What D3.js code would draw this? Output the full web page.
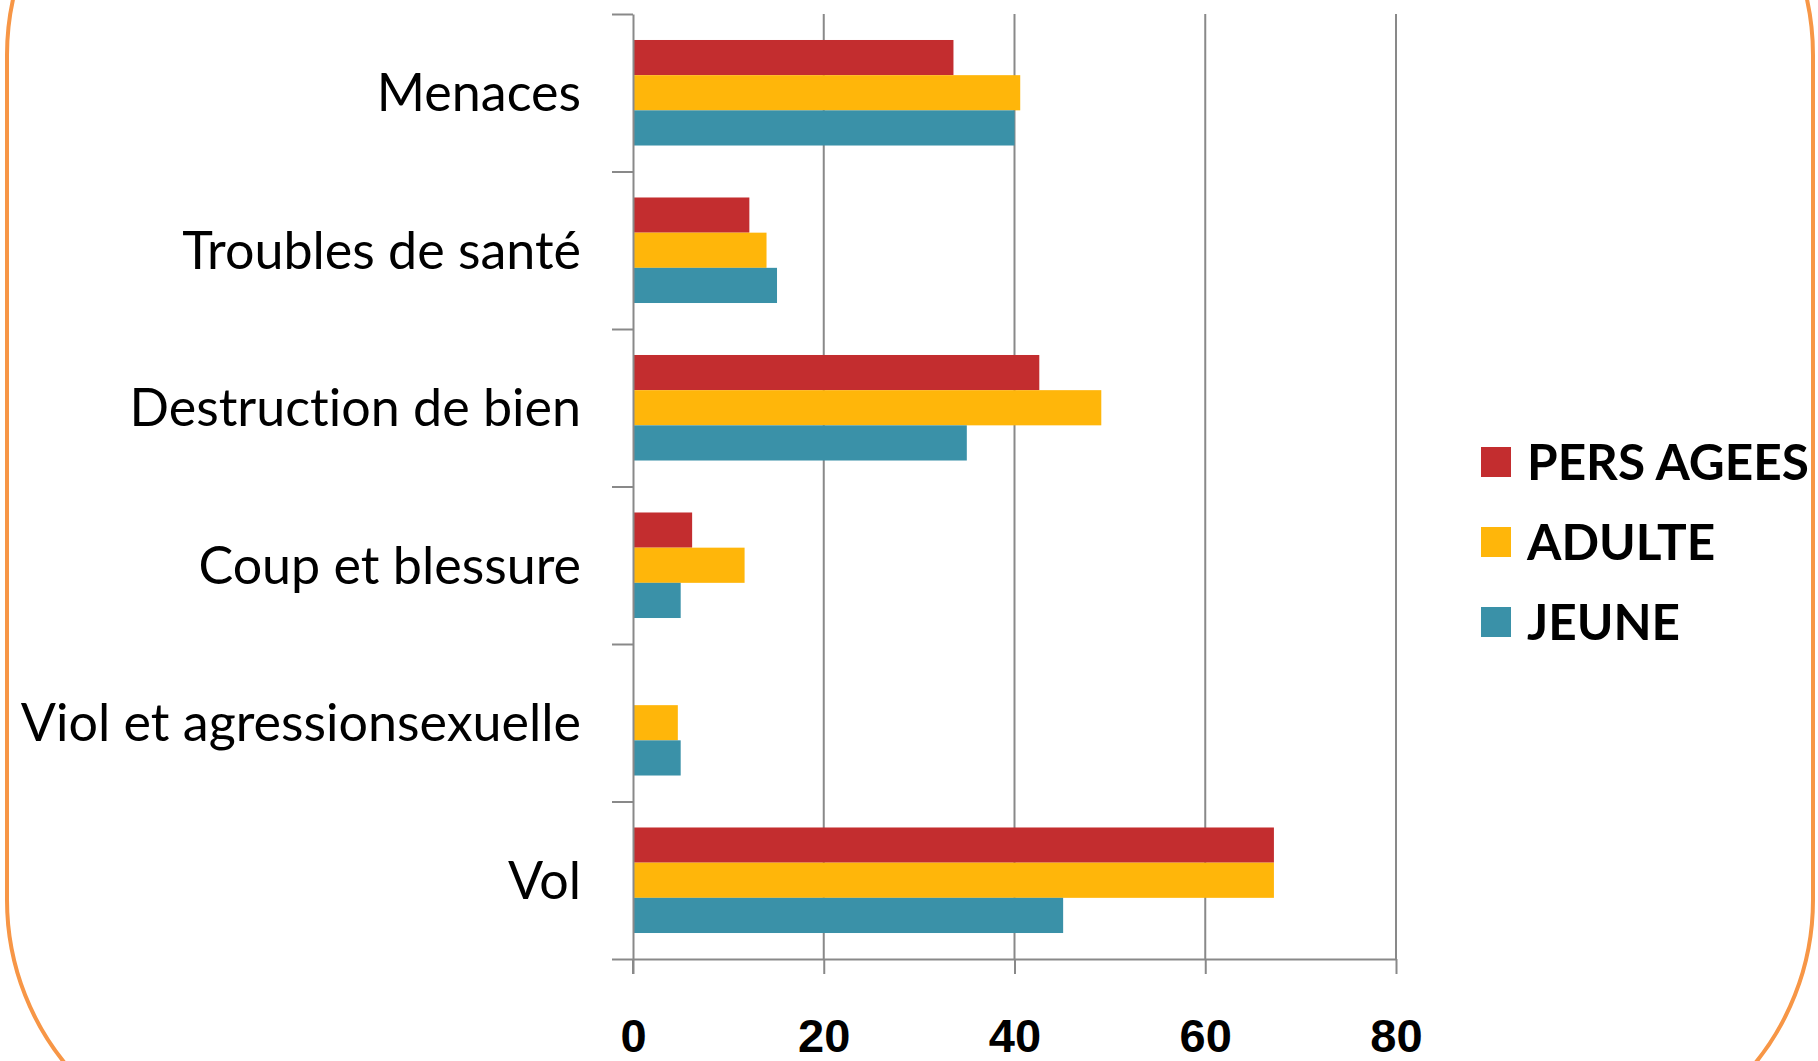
<!DOCTYPE html>
<html lang="fr">
<head>
    <meta charset="UTF-8">
    <title>Violences par âge</title>
    <script src="https://d3js.org/d3.v7.min.js"></script>
    <style>
        body { margin: 0; background: #fff; }
        svg { display: block; }
        .grid line { stroke: #898989; stroke-width: 2; }
        .axis path, .axis line { stroke: #898989; stroke-width: 2; }
        .cat { font-family: Lato, "Open Sans", sans-serif; font-size: 52px; fill: #000; font-variant-ligatures: none; }
        .tick-label { font-family: "Liberation Sans", Arial, sans-serif; font-weight: bold; font-size: 47px; fill: #000; }
        .legend text { font-family: Lato, "Open Sans", sans-serif; font-weight: bold; font-size: 49.5px; fill: #000; }
    </style>
</head>
<body>
    <svg id="chart"></svg>

    <script>
        // categories, top to bottom
        var categories = ["Menaces", "Troubles de santé", "Destruction de bien",
                          "Coup et blessure", "Viol et agressionsexuelle", "Vol"];
        var series = ["PERS AGEES", "ADULTE", "JEUNE"];
        var colors = ["#C32D2F", "#FFB60A", "#3A91A8"];

        var persAgees = [33.6, 12.2, 42.6, 6.2, 0, 67.2];
        var adulte    = [40.6, 14.0, 49.1, 11.7, 4.7, 67.2];
        var jeune     = [40.0, 15.1, 35.0, 5.0, 5.0, 45.1];
        var xTicks = [0, 20, 40, 60, 80];

        (function() {
            var values = [persAgees, adulte, jeune];

            var width = 1818, height = 1061;
            var svg = d3.select("#chart")
                .attr("width", width)
                .attr("height", height);

            // orange rounded frame
            svg.append("rect")
                .attr("x", 7).attr("y", -204)
                .attr("width", 1806).attr("height", 1363)
                .attr("rx", 259).attr("ry", 259)
                .attr("fill", "none")
                .attr("stroke", "#F79646")
                .attr("stroke-width", 4);

            var plotLeft = 633, plotRight = 1396, plotTop = 14, plotBottom = 959;

            var x = d3.scaleLinear().domain([0, 80]).range([plotLeft, plotRight]);

            var y = d3.scaleBand()
                .domain(categories)
                .range([plotTop, plotBottom])
                .paddingInner(0.33)
                .paddingOuter(0.165);

            var ySub = d3.scaleBand()
                .domain(series)
                .range([0, y.bandwidth()]);

            // boundaries between categories
            var yEdge = d3.scaleLinear().domain([0, categories.length]).range([plotTop, plotBottom]);

            // vertical grid
            svg.append("g").attr("class", "grid")
                .selectAll("line")
                .data(xTicks.slice(1))
                .enter().append("line")
                .attr("x1", function(d) { return x(d); })
                .attr("x2", function(d) { return x(d); })
                .attr("y1", plotTop)
                .attr("y2", plotBottom);

            // bars
            var rows = [];
            categories.forEach(function(c, i) {
                series.forEach(function(s, j) {
                    rows.push({ cat: c, ser: s, color: colors[j], value: values[j][i] });
                });
            });

            svg.append("g")
                .selectAll("rect")
                .data(rows)
                .enter().append("rect")
                .attr("x", x(0))
                .attr("y", function(d) { return y(d.cat) + ySub(d.ser); })
                .attr("width", function(d) { return x(d.value) - x(0); })
                .attr("height", ySub.bandwidth())
                .attr("fill", function(d) { return d.color; });

            // x axis
            var xAxis = svg.append("g").attr("class", "axis")
                .attr("transform", "translate(0," + plotBottom + ")")
                .call(d3.axisBottom(x).tickValues(xTicks).tickSize(15).tickSizeOuter(0).tickFormat(""));

            xAxis.selectAll(".tick")
                .append("text")
                .attr("class", "tick-label")
                .attr("y", 93)
                .attr("text-anchor", "middle")
                .text(function(d) { return d; });

            // y axis with ticks on category boundaries
            svg.append("g").attr("class", "axis")
                .attr("transform", "translate(" + plotLeft + ",0)")
                .call(d3.axisLeft(yEdge).ticks(categories.length).tickSize(21).tickSizeOuter(0).tickFormat(""));

            svg.append("line")
                .attr("x1", plotLeft).attr("x2", plotLeft)
                .attr("y1", plotBottom).attr("y2", plotBottom + 15)
                .attr("stroke", "#898989").attr("stroke-width", 2);

            // category labels
            svg.append("g")
                .selectAll("text")
                .data(categories)
                .enter().append("text")
                .attr("class", "cat")
                .attr("x", 581)
                .attr("y", function(d) { return y(d) + y.bandwidth() / 2; })
                .attr("dy", "0.36em")
                .attr("text-anchor", "end")
                .text(function(d) { return d; });

            // legend
            var legend = svg.append("g").attr("class", "legend")
                .selectAll("g")
                .data(series)
                .enter().append("g")
                .attr("transform", function(d, i) { return "translate(1481," + (447 + i * 80) + ")"; });

            legend.append("rect")
                .attr("width", 30).attr("height", 30)
                .attr("fill", function(d, i) { return colors[i]; });

            legend.append("text")
                .attr("x", 46)
                .attr("y", 33)
                .text(function(d) { return d; });
        })();
    </script>
</body>
</html>
